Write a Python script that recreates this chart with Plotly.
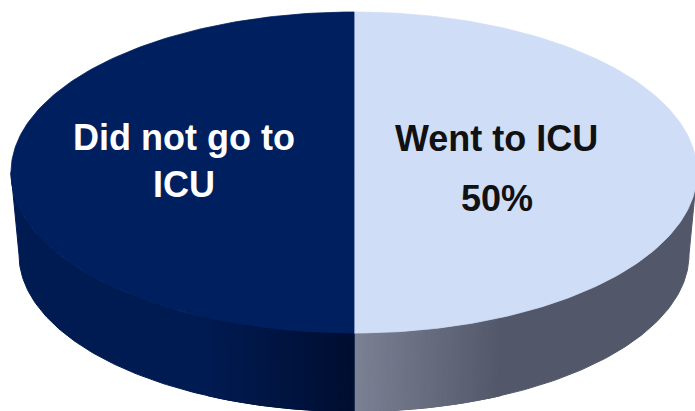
import numpy as np
import plotly.graph_objects as go

# --- data ---------------------------------------------------------------
labels = ["Went to ICU", "Did not go to ICU"]
values = [50, 50]
show_percent = [True, False]

# --- styling --------------------------------------------------------------
top_colors = ["#CFDDF7", "#001F5F"]
# side-wall shading: (colour away from the front, colour at front centre)
side_edge = [(82, 88, 106), (0, 27, 82)]
side_front = [(124, 130, 148), (0, 14, 48)]
shade_width = 150.0               # px over which the front highlight fades
text_colors = ["#111111", "#FFFFFF"]
label_text = ["Went to ICU", "Did not go to<br>ICU"]
label_r = [0.414, 0.496]          # radial placement of labels (fraction of rx)
label_dy = [-34, -12]             # vertical offset of label block

W, H = 695, 411
CX = 354.0
CY_TOP, RX_TOP, RY_TOP = 172.5, 343.0, 160.5
CY_BOT, RX_BOT, RY_BOT = 254.5, 335.0, 157.0
FONT = "Liberation Sans, Arial, sans-serif"


def top_pt(t):
    return CX + RX_TOP * np.sin(t), CY_TOP - RY_TOP * np.cos(t)


def bot_pt(t):
    return CX + RX_BOT * np.sin(t), CY_BOT - RY_BOT * np.cos(t)


def mix(c0, c1, f):
    return "rgb(%d,%d,%d)" % tuple(round(a + (b - a) * f) for a, b in zip(c0, c1))


def wall(ta, tb, m=6):
    ts = np.linspace(ta, tb, m)
    xt, yt = top_pt(ts)
    xb, yb = bot_pt(ts[::-1])
    return (np.concatenate([xt, xb, xt[:1]]), np.concatenate([yt, yb, yt[:1]]))


fig = go.Figure()

# slice angles measured clockwise from 12 o'clock
total = float(sum(values))
bounds = np.concatenate([[0.0], np.cumsum(values) / total * 2 * np.pi])

# side walls (only the front half is visible)
for i in range(len(values)):
    a0 = max(bounds[i], np.pi / 2)
    a1 = min(bounds[i + 1], 3 * np.pi / 2)
    if a1 <= a0:
        continue
    # base wall in the outer colour
    xs, ys = wall(a0, a1, 120)
    base = mix(side_edge[i], side_edge[i], 0)
    fig.add_trace(go.Scatter(x=xs, y=ys, mode="lines", fill="toself",
                             fillcolor=base, line=dict(color=base, width=1),
                             hoverinfo="skip", showlegend=False))
    # shaded strips near the front, spaced evenly in screen x
    n = 50
    xe = np.linspace(0, shade_width, n + 1)
    ang = np.arcsin(np.clip(xe / RX_TOP, 0, 1))
    sign = 1 if np.sin(0.5 * (a0 + a1)) > 0 else -1
    for k in range(n):
        if sign > 0:
            ta, tb = np.pi - ang[k + 1], np.pi - ang[k]
        else:
            ta, tb = np.pi + ang[k], np.pi + ang[k + 1]
        ta, tb = max(ta, a0), min(tb, a1)
        if tb <= ta:
            continue
        f = 1 - (0.5 * (xe[k] + xe[k + 1])) / shade_width
        col = mix(side_edge[i], side_front[i], f)
        xs, ys = wall(ta, tb, 3)
        fig.add_trace(go.Scatter(x=xs, y=ys, mode="lines", fill="toself",
                                 fillcolor=col, line=dict(color=col, width=1),
                                 hoverinfo="skip", showlegend=False))

# top faces
for i in range(len(values)):
    ts = np.linspace(bounds[i], bounds[i + 1], 200)
    xt, yt = top_pt(ts)
    xs = np.concatenate([[CX], xt, [CX]])
    ys = np.concatenate([[CY_TOP], yt, [CY_TOP]])
    fig.add_trace(go.Scatter(x=xs, y=ys, mode="lines", fill="toself",
                             fillcolor=top_colors[i],
                             line=dict(color=top_colors[i], width=0.8),
                             name=labels[i], hoverinfo="name", showlegend=False))

# labels
for i in range(len(values)):
    mid = 0.5 * (bounds[i] + bounds[i + 1])
    lx = CX + label_r[i] * RX_TOP * np.sin(mid)
    ly = CY_TOP - label_r[i] * RY_TOP * np.cos(mid) + label_dy[i]
    fig.add_annotation(x=lx, y=ly, text=label_text[i], showarrow=False,
                       xanchor="center", yanchor="middle",
                       font=dict(family=FONT, size=36, color=text_colors[i], weight="bold"))
    if show_percent[i]:
        pct = "%d%%" % round(values[i] / total * 100)
        fig.add_annotation(x=lx + 1, y=ly + 60, text=pct, showarrow=False,
                           xanchor="center", yanchor="middle",
                           font=dict(family=FONT, size=36, color=text_colors[i], weight="bold"))

fig.update_layout(
    width=W, height=H,
    margin=dict(l=0, r=0, t=0, b=0),
    paper_bgcolor="white", plot_bgcolor="white",
    showlegend=False,
    xaxis=dict(range=[0, W], visible=False, fixedrange=True),
    yaxis=dict(range=[H, 0], visible=False, fixedrange=True),
)

fig.write_html("out.html", config={"displayModeBar": False})
